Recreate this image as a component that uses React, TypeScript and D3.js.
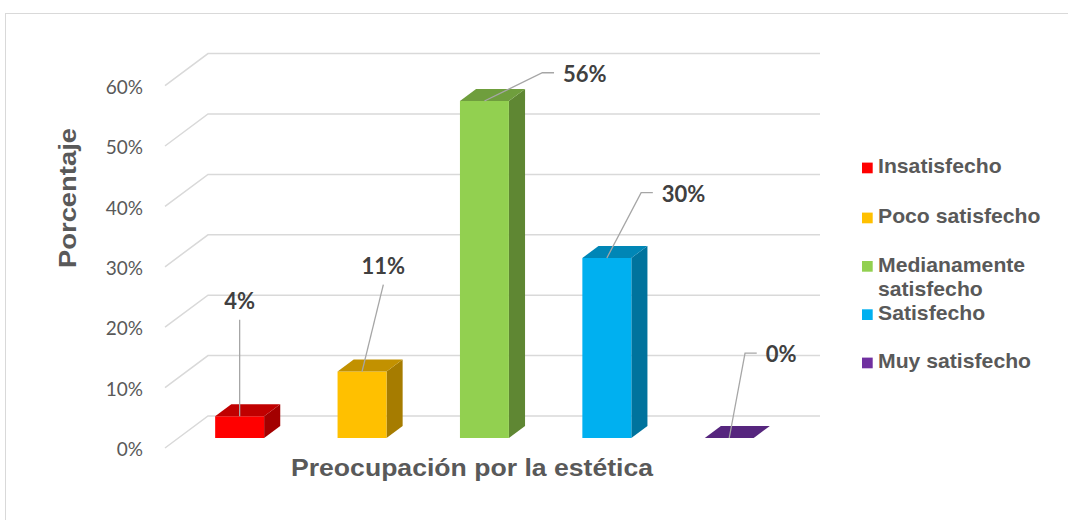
import React from "react";
import * as d3 from "d3";

const categories = ["Insatisfecho", "Poco satisfecho", "Medianamente satisfecho", "Satisfecho", "Muy satisfecho"];
const legendLines = [["Insatisfecho"], ["Poco satisfecho"], ["Medianamente", "satisfecho"], ["Satisfecho"], ["Muy satisfecho"]];
const values = [3.6, 11, 55.8, 29.8, 0];
const yTicks = [0, 10, 20, 30, 40, 50, 60];
const frontColors = ["#FF0000", "#FFC000", "#92D050", "#00B0F0", "#7030A0"];
const topColors = ["#C00000", "#C29100", "#6F9E3D", "#0086B6", "#56267E"];
const sideColors = ["#A30000", "#A67C00", "#5F8733", "#00739D", "#4A1F6C"];
// label placement relative to bar front-top center
const labelPlacement = [
  { dx: 0, dy: -115, elbow: false },
  { dx: 21.3, dy: -105.4, elbow: false },
  { dx: 78.6, dy: -27.2, elbow: true },
  { dx: 55, dy: -64.3, elbow: true },
  { dx: 36.5, dy: -83.8, elbow: true },
];
const legendBaselines = [173.3, 223.3, 271.7, 320, 368.3];

const W = 1068, H = 520;
const X0 = 165, X1 = 777, Y0 = 448, Y60 = 85.6;
const DX = 43, DY = -32;
const zF = 0.3125, zB = 0.6875;

export default function App() {
  const x = d3.scaleBand<string>().domain(categories).range([X0, X1]).paddingInner(0.6).paddingOuter(0.3);
  const y = d3.scaleLinear().domain([0, 60]).range([Y0, Y60]);
  const fmt = (v: number) => d3.format(".0%")(v / 100);
  const proj = (px: number, py: number, z: number): [number, number] => [px + DX * z, py + DY * z];
  const pts = (arr: [number, number][]) => arr.map((p) => p.join(",")).join(" ");
  const textColor = "#595959";
  const labelColor = "#404040";
  const arial = "'Liberation Sans', Arial, sans-serif";
  const lato = "Lato, 'Open Sans', sans-serif";
  const lblSize = 22;
  const lblCapHalf = lblSize * 0.36;

  return (
    <svg width={W} height={H} style={{ position: "absolute", left: 0, top: 0, background: "#fff" }}>
      <rect x={5.5} y={13.5} width={1100} height={600} fill="none" stroke="#d9d9d9" strokeWidth={1} />
      {yTicks.map((t) => {
        const yy = y(t);
        const a = proj(X0, yy, 0);
        const b = proj(X0, yy, 1);
        const c = proj(X1, yy, 1);
        return (
          <g key={t}>
            <polyline points={pts([a, b, c])} fill="none" stroke="#d9d9d9" strokeWidth={1.5} />
            <text x={143} y={yy + 8.2} textAnchor="end" fontFamily={lato} fontSize={19} fill={textColor}>
              {t}%
            </text>
          </g>
        );
      })}
      {categories.map((c, i) => {
        const v = values[i];
        const xl = x(c)!;
        const xr = xl + x.bandwidth();
        const yb = y(0);
        const yt = y(v);
        const fbl = proj(xl, yb, zF), fbr = proj(xr, yb, zF), ftl = proj(xl, yt, zF), ftr = proj(xr, yt, zF);
        const bbr = proj(xr, yb, zB), btl = proj(xl, yt, zB), btr = proj(xr, yt, zB);
        const lp = labelPlacement[i];
        const anchor: [number, number] = [(ftl[0] + ftr[0]) / 2, ftl[1]];
        const tx = anchor[0] + lp.dx;
        const ty = anchor[1] + lp.dy;
        return (
          <g key={c}>
            {v > 0 && <polygon points={pts([ftr, btr, bbr, fbr])} fill={sideColors[i]} />}
            {v > 0 && <polygon points={pts([fbl, fbr, ftr, ftl])} fill={frontColors[i]} />}
            <polygon points={pts([ftl, ftr, btr, btl])} fill={topColors[i]} />
            {lp.elbow ? (
              <polyline
                points={pts([anchor, [tx - 20.7, ty - 1], [tx - 9, ty - 1]])}
                fill="none"
                stroke="#a6a6a6"
                strokeWidth={1.3}
              />
            ) : (
              <line x1={anchor[0]} y1={anchor[1]} x2={tx} y2={ty + 18.5} stroke="#a6a6a6" strokeWidth={1.3} />
            )}
            <text
              x={tx}
              y={ty + lblCapHalf}
              textAnchor={lp.elbow ? "start" : "middle"}
              fontFamily={lato}
              fontWeight="bold"
              fontSize={lblSize}
              fill={labelColor}
            >
              {fmt(v)}
            </text>
          </g>
        );
      })}
      <text
        transform="translate(76,198) rotate(-90)"
        textAnchor="middle"
        fontFamily={arial}
        fontWeight="bold"
        fontSize={23}
        textLength={140}
        lengthAdjust="spacingAndGlyphs"
        fill={textColor}
      >
        Porcentaje
      </text>
      <text
        x={472}
        y={476}
        textAnchor="middle"
        fontFamily={arial}
        fontWeight="bold"
        fontSize={23}
        textLength={362}
        lengthAdjust="spacingAndGlyphs"
        fill={textColor}
      >
        Preocupación por la estética
      </text>
      {legendLines.map((lines, i) => {
        const bl = legendBaselines[i];
        return (
          <g key={i}>
            <rect x={862} y={bl - 10.7} width={10.7} height={10.7} fill={frontColors[i]} />
            {lines.map((ln, j) => (
              <text
                key={j}
                transform={`translate(878,${bl + j * 24.3}) scale(1.06,1)`}
                fontFamily={arial}
                fontWeight="bold"
                fontSize={20}
                fill={textColor}
              >
                {ln}
              </text>
            ))}
          </g>
        );
      })}
    </svg>
  );
}
